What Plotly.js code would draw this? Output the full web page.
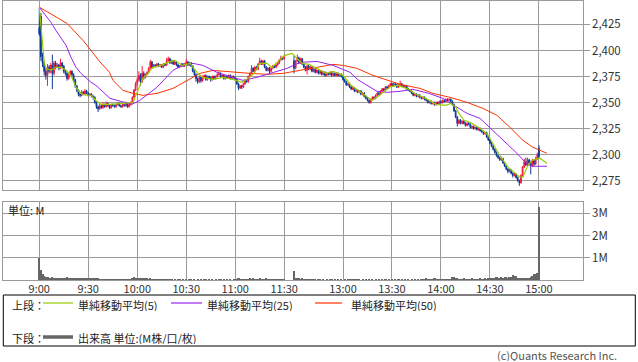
<!DOCTYPE html>
<html>
<head>
<meta charset="utf-8">
<script src="https://cdn.plot.ly/plotly-3.0.1.min.js"></script>
<style>html,body{margin:0;padding:0;background:#fff;}#chart{width:638px;height:362px;}</style>
</head>
<body>
<div id="chart"></div>
<script>
// ---- Data ----
// Morning session 9:00-11:30, one candle per minute (151)
const amOpen = [2422,2433,2394,2388,2380,2376,2384,2380,2386,2378,2388,2384,2386,2383,2388,2385,2380,2378,2373,2376,2380,2377,2372,2366,2362,2358,2357,2360,2358,2361,2359,2357,2358,2356,2355,2350,2346,2344,2347,2345,2348,2346,2349,2347,2345,2348,2347,2346,2348,2349,2347,2346,2348,2347,2349,2346,2348,2350,2355,2362,2368,2372,2376,2370,2378,2374,2377,2379,2383,2389,2384,2386,2385,2387,2385,2386,2384,2387,2386,2390,2392,2388,2390,2387,2389,2386,2384,2385,2387,2385,2387,2389,2386,2388,2385,2380,2377,2373,2370,2374,2371,2374,2376,2372,2375,2374,2372,2375,2373,2375,2377,2378,2375,2376,2373,2375,2374,2376,2373,2375,2374,2372,2368,2364,2366,2365,2368,2371,2370,2375,2378,2383,2380,2384,2382,2387,2390,2387,2390,2384,2381,2383,2380,2383,2385,2384,2386,2388,2391,2393,2392];
const amHigh = [2441,2436,2398,2390,2383,2387,2386,2388,2396,2390,2390,2388,2387,2392,2389,2386,2382,2379,2378,2381,2381,2378,2373,2367,2363,2360,2362,2361,2363,2362,2360,2359,2359,2357,2356,2351,2347,2349,2348,2350,2349,2351,2350,2348,2349,2349,2348,2349,2350,2350,2348,2349,2349,2351,2350,2349,2351,2356,2363,2370,2374,2380,2378,2385,2380,2378,2380,2384,2391,2390,2387,2387,2388,2388,2387,2387,2388,2388,2393,2394,2393,2391,2391,2390,2390,2387,2386,2388,2388,2388,2392,2390,2389,2389,2386,2381,2378,2374,2376,2375,2376,2377,2377,2376,2376,2375,2376,2376,2376,2378,2380,2379,2377,2377,2376,2376,2377,2377,2376,2376,2375,2373,2369,2367,2367,2369,2372,2372,2376,2379,2386,2384,2385,2385,2388,2393,2391,2391,2391,2385,2384,2384,2384,2386,2386,2387,2389,2392,2395,2394,2396];
const amLow = [2414,2390,2384,2376,2372,2366,2378,2378,2363,2376,2382,2383,2381,2382,2383,2378,2376,2371,2372,2375,2375,2370,2364,2360,2356,2355,2356,2357,2357,2358,2356,2356,2355,2353,2349,2344,2341,2343,2344,2344,2345,2345,2346,2344,2344,2346,2345,2345,2347,2346,2345,2345,2346,2346,2345,2345,2347,2349,2354,2361,2366,2370,2366,2369,2372,2373,2376,2378,2382,2383,2383,2384,2384,2384,2384,2383,2383,2385,2385,2389,2387,2387,2386,2386,2385,2383,2383,2384,2384,2384,2386,2385,2385,2384,2379,2375,2370,2368,2369,2369,2370,2373,2371,2371,2373,2370,2371,2372,2372,2374,2376,2374,2374,2372,2372,2373,2373,2372,2372,2373,2371,2367,2362,2363,2363,2364,2367,2369,2369,2374,2377,2379,2379,2381,2381,2386,2386,2386,2383,2380,2380,2378,2379,2382,2383,2383,2385,2387,2390,2391,2391];
const amClose = [2416,2394,2388,2380,2376,2384,2380,2386,2378,2388,2384,2386,2383,2388,2385,2380,2378,2373,2376,2380,2377,2372,2366,2362,2358,2357,2360,2358,2361,2359,2357,2358,2356,2355,2350,2346,2344,2347,2345,2348,2346,2349,2347,2345,2348,2347,2346,2348,2349,2347,2346,2348,2347,2349,2346,2348,2350,2355,2362,2368,2372,2376,2370,2378,2374,2377,2379,2383,2389,2384,2386,2385,2387,2385,2386,2384,2387,2386,2390,2392,2388,2390,2387,2389,2386,2384,2385,2387,2385,2387,2389,2386,2388,2385,2380,2377,2373,2370,2374,2371,2374,2376,2372,2375,2374,2372,2375,2373,2375,2377,2378,2375,2376,2373,2375,2374,2376,2373,2375,2374,2372,2368,2364,2366,2365,2368,2371,2370,2375,2378,2383,2380,2384,2382,2387,2390,2387,2390,2384,2381,2383,2380,2383,2385,2384,2386,2388,2391,2393,2392,2394];
const amVolume = [0.97,0.45,0.26,0.19,0.15,0.12,0.10,0.11,0.13,0.09,0.10,0.08,0.11,0.09,0.10,0.08,0.09,0.12,0.10,0.08,0.09,0.11,0.10,0.08,0.09,0.07,0.09,0.10,0.08,0.11,0.09,0.08,0.07,0.10,0.09,0.11,0.08,0.05,0.04,0.06,0.04,0.05,0.03,0.04,0.05,0.03,0.04,0.05,0.04,0.03,0.04,0.05,0.03,0.04,0.05,0.04,0.06,0.10,0.12,0.10,0.09,0.11,0.08,0.10,0.07,0.08,0.09,0.06,0.07,0.05,0.06,0.05,0.04,0.05,0.06,0.04,0.05,0.04,0.05,0.06,0.04,0.03,0.02,0.03,0.02,0.03,0.04,0.02,0.03,0.02,0.03,0.02,0.03,0.04,0.02,0.03,0.02,0.03,0.02,0.03,0.02,0.03,0.04,0.02,0.03,0.02,0.03,0.02,0.03,0.02,0.03,0.04,0.02,0.03,0.02,0.03,0.02,0.03,0.02,0.03,0.04,0.06,0.10,0.05,0.04,0.03,0.04,0.03,0.05,0.07,0.06,0.08,0.05,0.06,0.04,0.07,0.05,0.06,0.04,0.10,0.05,0.03,0.04,0.03,0.04,0.03,0.04,0.05,0.04,0.03,0.06];
// Afternoon session 12:30-15:00 (151)
const pmOpen = [2390,2383,2390,2393,2388,2392,2387,2384,2381,2385,2382,2384,2380,2382,2379,2381,2378,2380,2377,2379,2376,2378,2377,2379,2376,2378,2376,2378,2376,2377,2375,2372,2370,2367,2368,2365,2363,2364,2361,2362,2360,2361,2358,2359,2356,2354,2352,2350,2353,2355,2354,2357,2359,2358,2361,2363,2362,2365,2364,2366,2368,2366,2368,2367,2365,2367,2368,2366,2365,2366,2363,2362,2361,2359,2357,2358,2356,2357,2355,2354,2355,2353,2352,2350,2351,2349,2350,2348,2350,2349,2351,2350,2352,2351,2353,2352,2353,2351,2348,2342,2336,2330,2333,2330,2332,2330,2328,2330,2329,2326,2327,2325,2326,2324,2325,2323,2322,2320,2321,2317,2314,2311,2308,2305,2302,2299,2297,2295,2296,2292,2289,2286,2284,2285,2282,2280,2281,2278,2275,2273,2280,2288,2293,2290,2295,2292,2289,2294,2291,2296,2306];
const pmHigh = [2395,2391,2396,2394,2393,2393,2388,2385,2386,2386,2385,2385,2383,2383,2382,2382,2381,2381,2380,2380,2379,2379,2380,2380,2379,2379,2379,2379,2378,2378,2376,2373,2371,2369,2369,2366,2365,2365,2363,2363,2362,2362,2360,2360,2357,2355,2353,2354,2356,2356,2358,2360,2360,2362,2364,2364,2366,2366,2367,2369,2369,2369,2369,2368,2368,2371,2369,2367,2367,2367,2364,2363,2362,2360,2359,2359,2358,2358,2356,2356,2356,2354,2353,2352,2352,2351,2351,2351,2351,2352,2352,2353,2353,2354,2354,2354,2354,2352,2349,2343,2337,2334,2334,2333,2333,2331,2331,2331,2330,2328,2328,2327,2327,2326,2326,2324,2323,2322,2322,2318,2315,2312,2309,2306,2303,2300,2298,2298,2297,2293,2290,2287,2287,2286,2283,2283,2282,2279,2276,2281,2289,2296,2297,2297,2296,2294,2296,2295,2298,2302,2309];
const pmLow = [2378,2382,2389,2387,2387,2386,2383,2380,2377,2381,2381,2379,2379,2378,2378,2377,2377,2376,2376,2375,2375,2376,2376,2375,2375,2375,2375,2375,2375,2374,2371,2369,2366,2366,2364,2362,2362,2360,2360,2359,2359,2357,2357,2355,2353,2351,2349,2349,2352,2353,2353,2356,2357,2357,2360,2361,2361,2363,2363,2365,2365,2365,2366,2364,2364,2366,2365,2364,2364,2362,2361,2360,2358,2356,2356,2355,2355,2354,2353,2353,2352,2351,2349,2349,2348,2348,2347,2347,2348,2348,2349,2349,2350,2350,2351,2351,2350,2347,2341,2335,2327,2329,2329,2329,2329,2327,2327,2328,2325,2325,2324,2324,2323,2323,2322,2321,2319,2319,2316,2313,2310,2307,2304,2301,2298,2296,2294,2294,2291,2288,2285,2282,2283,2281,2278,2279,2277,2274,2270,2272,2279,2287,2289,2289,2290,2281,2288,2289,2290,2295,2296];
const pmClose = [2383,2390,2393,2388,2392,2387,2384,2381,2385,2382,2384,2380,2382,2379,2381,2378,2380,2377,2379,2376,2378,2377,2379,2376,2378,2376,2378,2376,2377,2375,2372,2370,2367,2368,2365,2363,2364,2361,2362,2360,2361,2358,2359,2356,2354,2352,2350,2353,2355,2354,2357,2359,2358,2361,2363,2362,2365,2364,2366,2368,2366,2368,2367,2365,2367,2368,2366,2365,2366,2363,2362,2361,2359,2357,2358,2356,2357,2355,2354,2355,2353,2352,2350,2351,2349,2350,2348,2350,2349,2351,2350,2352,2351,2353,2352,2353,2351,2348,2342,2336,2330,2333,2330,2332,2330,2328,2330,2329,2326,2327,2325,2326,2324,2325,2323,2322,2320,2321,2317,2314,2311,2308,2305,2302,2299,2297,2295,2296,2292,2289,2286,2284,2285,2282,2280,2281,2278,2275,2273,2280,2288,2293,2290,2295,2292,2289,2294,2291,2296,2300,2298];
const pmVolume = [0.40,0.07,0.08,0.10,0.06,0.07,0.05,0.06,0.05,0.04,0.05,0.04,0.05,0.03,0.02,0.03,0.04,0.02,0.03,0.02,0.03,0.02,0.03,0.04,0.02,0.03,0.02,0.03,0.02,0.03,0.02,0.03,0.02,0.05,0.06,0.04,0.05,0.06,0.04,0.05,0.04,0.02,0.03,0.02,0.03,0.02,0.03,0.02,0.03,0.02,0.03,0.02,0.03,0.02,0.03,0.02,0.03,0.02,0.03,0.02,0.03,0.02,0.03,0.02,0.03,0.02,0.03,0.02,0.03,0.02,0.03,0.02,0.03,0.02,0.03,0.02,0.03,0.02,0.03,0.06,0.05,0.07,0.06,0.05,0.06,0.05,0.07,0.06,0.05,0.03,0.03,0.03,0.03,0.03,0.03,0.03,0.03,0.15,0.14,0.10,0.08,0.06,0.05,0.06,0.07,0.05,0.06,0.05,0.06,0.07,0.05,0.06,0.05,0.06,0.07,0.05,0.06,0.07,0.06,0.10,0.09,0.11,0.10,0.09,0.12,0.10,0.11,0.12,0.11,0.13,0.12,0.11,0.12,0.13,0.22,0.20,0.18,0.10,0.09,0.11,0.10,0.09,0.10,0.11,0.10,0.12,0.20,0.25,0.28,0.32,3.29];

// Moving averages at sample positions (slot index on the time axis)
const ma5Slot  = [0,3.1,4.1,7.2,10.2,13.3,16.4,19.4,22.5,25.5,28.6,31.7,34.7,37.8,43.3,54.3,57.4,60.4,63.5,66.6,69.6,74.5,78.8,83.1,87.4,92.3,96.6,100.2,106.4,112.5,118.6,124.1,127.8,131.5,135.1,139.4,142.5,146.8,150.5,154.8,157.8,160.9,165.2,168.9,175.6,179.9,186,190.9,197,200.7,203.7,206.8,212.3,215.4,219.7,226.4,230.7,236.8,243,249,252.1,255.2,257,260.1,263.8,269.9,274.7,279.1,282.7,287,291.3,294.4,296.2,298.7,301.7,306.6,310.9];
const ma5      = [2441.6,2387.6,2383,2381,2383.8,2383.8,2381,2376,2364.6,2358.8,2357,2357,2352,2348.3,2348.3,2349.2,2350,2361.7,2373.2,2378,2383.8,2385.7,2388.6,2390.5,2385.7,2387.6,2379,2374.2,2372.3,2374.2,2372.3,2369.4,2373.2,2378,2387.6,2387.6,2383.8,2390.5,2395.3,2397.2,2392.4,2387.6,2386.6,2383.8,2378,2380,2376.1,2366.5,2359.8,2355,2352.1,2355,2361.7,2365.5,2366.5,2362.7,2357.9,2354,2348.3,2347.3,2349.2,2345.4,2339.6,2333,2331,2325.3,2319,2307,2297.5,2287.9,2282.1,2278.3,2278.3,2287.9,2294.6,2296.5,2291.7];
const ma25Slot = [0,4.1,7.2,10.2,13.3,16.4,19.4,22.5,25.5,28.6,31.7,34.7,37.8,40.9,43.3,47.6,56.8,61.6,72,81.9,87.4,94.1,100.2,108.8,118.6,124.7,133.3,143.1,151.7,159.7,170.1,179.9,190.3,195,200.7,206.8,213,220.9,228.8,238.6,247.2,255.8,261.9,269.9,277.8,286.4,292.5,298.6,302.3,310.9];
const ma25     = [2441.6,2433.6,2426.9,2419.2,2412.5,2404.9,2393.4,2383.8,2378,2373.2,2369.4,2366.5,2361.7,2356.9,2354,2352.1,2348.3,2352.1,2364.6,2380.9,2385.7,2387.6,2385.7,2379,2374.2,2371.3,2374.2,2379,2382.8,2388.6,2389.5,2385.7,2379,2372,2366.5,2360.8,2359.8,2360.8,2362.7,2358.8,2354,2345.4,2339.6,2334.8,2323.3,2310.8,2301.3,2290.8,2288.8,2288.8];
const ma50Slot = [0,6.6,17,26.8,37.2,43,45.1,51.3,57.4,63.5,72.1,81.9,90.4,98.4,106.4,118.6,129,139.4,149.2,159.6,170.1,179.9,186,194.5,204.3,213,220.9,233.1,241.1,251.5,261.9,271.7,280.3,288.2,296.2,302.3,310.9];
const ma50     = [2441.6,2435.5,2426,2409.7,2389,2379,2371.3,2361.7,2358.8,2356.9,2358.8,2363.6,2371.3,2378,2380.9,2379,2378,2377.1,2378,2380.9,2383.8,2386.6,2385.7,2382.8,2376.1,2371.3,2367.5,2363.6,2358.8,2355,2350.2,2344.4,2337.7,2326.2,2313.7,2307,2301.3];

const tickLabels = ["9:00","9:30","10:00","10:30","11:00","11:30","13:00","13:30","14:00","14:30","15:00"];
const tickMinutes = [0,30,60,90,120,150,30,60,90,120,150]; // minutes into the session
const tickSession = ["am","am","am","am","am","am","pm","pm","pm","pm","pm"];
const priceTicks = [2275,2300,2325,2350,2375,2400,2425];
const volTicks = [1,2,3];
const volTickText = ["1M","2M","3M"];

// ---- Layout helpers ----
const PM_START = 156;   // slot of 12:30 on the compressed time axis (lunch gap)
const slot = (session, m) => session === "am" ? m : PM_START + m;
const W = 638, H = 362;
const px = x => x / W;
const py = y => 1 - y / H;

const xs = [], o = [], h = [], l = [], c = [], v = [];
amClose.forEach((_, i) => { xs.push(slot("am", i)); o.push(amOpen[i]); h.push(amHigh[i]); l.push(amLow[i]); c.push(amClose[i]); v.push(amVolume[i]); });
pmClose.forEach((_, i) => { xs.push(slot("pm", i)); o.push(pmOpen[i]); h.push(pmHigh[i]); l.push(pmLow[i]); c.push(pmClose[i]); v.push(pmVolume[i]); });

const UP = "#f21a3d", DOWN = "#0b3a96";
const C_MA5 = "#99cc00", C_MA25 = "#9922ee", C_MA50 = "#ff3300";
const GRID = "#9a9a9a";
const FONT = "Noto Sans CJK JP";

const traces = [
  {type: "candlestick", x: xs, open: o, high: h, low: l, close: c, xaxis: "x", yaxis: "y",
   increasing: {line: {color: UP, width: 1}, fillcolor: UP},
   decreasing: {line: {color: DOWN, width: 1}, fillcolor: DOWN},
   whiskerwidth: 0, hoverinfo: "skip", showlegend: false},
  {type: "scatter", mode: "lines", x: ma50Slot, y: ma50, line: {color: C_MA50, width: 1}, xaxis: "x", yaxis: "y", hoverinfo: "skip", showlegend: false},
  {type: "scatter", mode: "lines", x: ma25Slot, y: ma25, line: {color: C_MA25, width: 1}, xaxis: "x", yaxis: "y", hoverinfo: "skip", showlegend: false},
  {type: "scatter", mode: "lines", x: ma5Slot, y: ma5, line: {color: C_MA5, width: 1.2}, xaxis: "x", yaxis: "y", hoverinfo: "skip", showlegend: false},
  {type: "bar", x: xs, y: v, width: 1.3, marker: {color: "#666666", line: {width: 0}}, xaxis: "x2", yaxis: "y2", hoverinfo: "skip", showlegend: false}
];

const tickVals = tickMinutes.map((m, i) => slot(tickSession[i], m));
const xRange = [-22.04, 332.8];
const axisCommon = {showline: true, mirror: true, linecolor: GRID, linewidth: 1, showgrid: true, gridcolor: GRID, gridwidth: 1, zeroline: false, fixedrange: true};

const layout = {
  width: W, height: H,
  margin: {l: 0, r: 0, t: 0, b: 0},
  paper_bgcolor: "#ffffff", plot_bgcolor: "#ffffff",
  font: {family: FONT, size: 11, color: "#333"},
  showlegend: false,
  xaxis: Object.assign({}, axisCommon, {domain: [px(3.3), px(582.7)], anchor: "y", range: xRange, tickmode: "array", tickvals: tickVals, ticktext: tickLabels, showticklabels: false, ticks: "", rangeslider: {visible: false}}),
  xaxis2: Object.assign({}, axisCommon, {domain: [px(3.3), px(582.7)], anchor: "y2", range: xRange, tickmode: "array", tickvals: tickVals, ticktext: tickLabels, showticklabels: true, ticks: "", ticklabelstandoff: -1, tickfont: {family: FONT, size: 11, color: "#333"}}),
  yaxis: Object.assign({}, axisCommon, {domain: [py(190), py(0.5)], anchor: "x", side: "right", range: [2266, 2448], tickmode: "array", tickvals: priceTicks, tickformat: ",d", ticks: "outside", ticklen: 6, tickcolor: GRID, tickfont: {family: FONT, size: 11.5, color: "#333"}}),
  yaxis2: Object.assign({}, axisCommon, {domain: [py(280), py(201.7)], anchor: "x2", side: "right", range: [0, 3.52], tickmode: "array", tickvals: volTicks, ticktext: volTickText, ticks: "outside", ticklen: 6, tickcolor: GRID, tickfont: {family: FONT, size: 11.5, color: "#333"}}),
  bargap: 0,
  shapes: [
    {type: "rect", xref: "paper", yref: "paper", x0: px(3.3), x1: px(635.3), y0: py(346), y1: py(295), line: {color: "#000", width: 1}, fillcolor: "rgba(0,0,0,0)"},
    {type: "line", xref: "paper", yref: "paper", x0: px(43), x1: px(73), y0: py(303), y1: py(303), line: {color: C_MA5, width: 1.2}},
    {type: "line", xref: "paper", yref: "paper", x0: px(171), x1: px(202), y0: py(303), y1: py(303), line: {color: C_MA25, width: 1.2}},
    {type: "line", xref: "paper", yref: "paper", x0: px(315), x1: px(342), y0: py(303), y1: py(303), line: {color: C_MA50, width: 1.2}},
    {type: "line", xref: "paper", yref: "paper", x0: px(43), x1: px(73), y0: py(337), y1: py(337), line: {color: "#666", width: 3.5}}
  ],
  annotations: [
    {text: "単位: M", x: px(7), y: py(209.5), xanchor: "left", yanchor: "middle"},
    {text: "上段：", x: px(10.5), y: py(304.5), xanchor: "left", yanchor: "middle", height: 13},
    {text: "単純移動平均(5)", x: px(77), y: py(304.5), xanchor: "left", yanchor: "middle", height: 13},
    {text: "単純移動平均(25)", x: px(206), y: py(304.5), xanchor: "left", yanchor: "middle", height: 13},
    {text: "単純移動平均(50)", x: px(349.5), y: py(304.5), xanchor: "left", yanchor: "middle", height: 13},
    {text: "下段：", x: px(10.5), y: py(337), xanchor: "left", yanchor: "middle", height: 13},
    {text: "出来高 単位:(M株/口/枚)", x: px(77), y: py(337), xanchor: "left", yanchor: "middle", height: 13},
    {text: "(c)Quants Research Inc.", x: px(618), y: py(354.5), xanchor: "right", yanchor: "middle", height: 13, font: {family: FONT, size: 11, color: "#555"}}
  ].map(a => Object.assign({xref: "paper", yref: "paper", showarrow: false, borderpad: 0, font: {family: FONT, size: 11, color: "#222"}}, a))
};

Plotly.newPlot("chart", traces, layout, {displayModeBar: false, staticPlot: true});
</script>
</body>
</html>
